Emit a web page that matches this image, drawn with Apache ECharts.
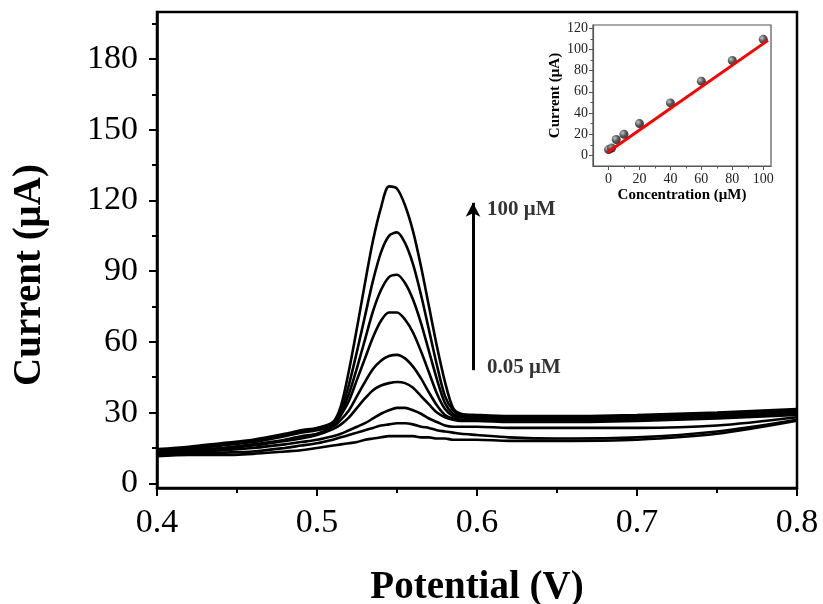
<!DOCTYPE html>
<html>

<head>
  <meta http-equiv="Content-Type" content="text/html; charset=utf-8" />
  <title>DPV curves</title>
  <script src="https://cdn.jsdelivr.net/npm/echarts@6/dist/echarts.min.js"></script>
  <style>
    html, body { margin: 0; padding: 0; background: #fff; }
    #chart { width: 823px; height: 604px; }
  </style>
</head>

<body>
  <div id="chart"></div>

  <script type="text/javascript">
    "use strict"

    // potential (V) sampling points shared by all curves
    const potential = [0.40, 0.42, 0.44, 0.46, 0.48, 0.49, 0.50, 0.51, 0.515, 0.52, 0.525, 0.53, 0.535, 0.54, 0.545,
      0.55, 0.555, 0.56, 0.565, 0.57, 0.575, 0.58, 0.585, 0.59, 0.60, 0.62, 0.65, 0.70, 0.75, 0.80]

    // current (uA), from 100 uM down to 0.05 uM
    const curve100 = [14.5, 15.5, 17, 18.5, 21, 22.5, 23.5, 26, 33, 48, 66, 85, 103, 117, 126, 125, 118, 107, 92, 75, 58, 43, 32, 29.5, 29, 28.5, 28.5, 29, 30, 31.5]
    const curve80 = [14, 15, 16.5, 18, 20.5, 22, 23, 25.5, 31, 42, 56, 71, 86, 98, 105, 106.5, 102, 93, 80, 65, 50, 37, 31, 29, 28.5, 28, 28, 28.5, 29.5, 31]
    const curve60 = [14, 15, 16.5, 18, 20.5, 22, 23, 25, 30, 38, 49, 61, 73, 82, 87.5, 88.5, 85, 78, 68, 56, 44, 34, 29.5, 28.5, 28, 27.5, 27.5, 28, 29, 30.5]
    const curve40 = [13.5, 14.5, 16, 17.5, 20, 21.5, 22.5, 24.5, 29, 35, 44, 53, 62, 69, 72.5, 72.5, 69.5, 64, 56, 47, 38, 31.5, 28.5, 28, 27.5, 27, 27, 27.5, 28.5, 30]
    const curve20 = [13, 14, 15, 16.5, 18.5, 20, 21, 24, 27, 31, 37, 43, 48.5, 52, 54, 54.5, 53, 49.5, 44.5, 38.5, 33, 29, 27.5, 27, 27, 26.5, 26.5, 27, 28, 29.5]
    const curve10 = [13, 13.5, 14.5, 16, 18, 19, 20.5, 23, 25, 28, 32, 36, 39.5, 41.5, 42.5, 43, 42.5, 40.5, 37, 33.5, 30, 28, 27, 26.5, 26.5, 26, 26, 26.5, 27.5, 29]
    const curve5 = [12.5, 13, 14, 15, 16.5, 17.5, 18.5, 20, 21, 22.5, 24, 25.5, 27.5, 29.5, 31, 32, 32, 31, 29.5, 27.5, 26, 24.5, 24, 24, 24, 23.5, 23.5, 23.5, 24.5, 28]
    const curve1 = [12, 12.5, 13, 13.5, 15, 16, 17, 18.5, 19.5, 20.5, 21.5, 22.5, 23.5, 24.5, 25, 25.5, 25.5, 25, 24, 23.5, 22.5, 22, 21.5, 21, 20.5, 19.5, 19, 19.5, 22, 27]
    const curve005 = [11.5, 12, 12, 12.5, 13.5, 14, 15, 16, 16.5, 17, 17.5, 18.5, 19, 19.5, 20, 20, 20, 20, 19.5, 19.5, 19, 19, 18.5, 18.5, 18.5, 18, 18, 18.5, 21, 26.5]

    const curves = [curve100, curve80, curve60, curve40, curve20, curve10, curve5, curve1, curve005]

    // main axis ticks
    const yLabels = [0, 30, 60, 90, 120, 150, 180]
    const yMinorTicks = [15, 45, 75, 105, 135, 165, 195]

    // arrow annotation
    const arrowFrom = [0.5975, 48]
    const arrowTo = [0.5975, 119]
    const arrowLabels = [[0.6, 116, "100 μM"], [0.6, 49, "0.05 μM"]]

    // inset: calibration
    const insetConc = [0.05, 2, 5, 10, 20, 40, 60, 80, 100]
    const insetCurrent = [5.5, 7, 15, 20, 30, 49.5, 70, 89.5, 109.5]
    const fitLine = [[-1, 2.5], [103, 108.5]]
    const insetXLabels = [0, 20, 40, 60, 80, 100]
    const insetXMinor = [10, 30, 50, 70, 90]
    const insetYLabels = [0, 20, 40, 60, 80, 100, 120]
    const insetYMinor = [10, 30, 50, 70, 90, 110]

    const serif = "'Times New Roman', 'Liberation Serif', serif"

    let myChart = echarts.init(document.getElementById("chart"), null, { renderer: "canvas" })

    let curveSeries = curves.map(function (c) {
      return {
        type: "line",
        xAxisIndex: 0,
        yAxisIndex: 0,
        data: potential.map(function (x, i) { return [x, c[i]] }),
        smooth: 0.3,
        showSymbol: false,
        silent: true,
        lineStyle: { color: "#000", width: 2.6 }
      }
    })

    let option = {
      animation: false,
      textStyle: { fontFamily: serif, color: "#000" },
      grid: [
        { left: 157, top: 12, right: 26, bottom: 116, show: true, borderColor: "#000", borderWidth: 2.5, outerBoundsMode: "none", containLabel: false },
        { left: 593, top: 25, width: 178, height: 141, show: true, borderColor: "#555", borderWidth: 1.2, outerBoundsMode: "none", containLabel: false }
      ],
      graphic: [{
        // rotated main y title, centred at (30, 275)
        type: "text",
        x: 30,
        y: 275,
        rotation: Math.PI / 2,
        style: {
          text: "Current (μA)",
          fontFamily: serif,
          fontSize: 39,
          fontWeight: "bold",
          fill: "#000",
          align: "center",
          verticalAlign: "middle"
        }
      }],
      xAxis: [
        {
          gridIndex: 0,
          type: "value",
          position: "bottom",
          min: 0.4,
          max: 0.8,
          interval: 0.1,
          name: "Potential (V)",
          nameLocation: "middle",
          nameGap: 80,
          nameTextStyle: { fontFamily: serif, fontSize: 39, fontWeight: "bold", color: "#000" },
          axisLine: { onZero: false, lineStyle: { color: "#000", width: 2.5 } },
          axisTick: { inside: false, length: 8, lineStyle: { color: "#000", width: 2 } },
          minorTick: { show: true, splitNumber: 2, length: 5, lineStyle: { color: "#000", width: 2 } },
          axisLabel: {
            margin: 18, fontSize: 34, color: "#000", fontFamily: serif,
            formatter: function (v) { return v.toFixed(1) }
          },
          splitLine: { show: false }
        },
        {
          gridIndex: 1,
          type: "value",
          position: "bottom",
          min: -10,
          max: 105,
          name: "Concentration (μM)",
          nameLocation: "middle",
          nameGap: 22,
          nameTextStyle: { fontFamily: serif, fontSize: 15, fontWeight: "bold", color: "#000" },
          axisLine: { onZero: false, lineStyle: { color: "#555", width: 1.2 } },
          axisTick: { customValues: insetXLabels, length: 4, lineStyle: { color: "#555", width: 1 } },
          axisLabel: { customValues: insetXLabels, margin: 6, fontSize: 14, color: "#222", fontFamily: serif },
          splitLine: { show: false }
        },
        {
          gridIndex: 1,
          type: "value",
          position: "bottom",
          min: -10,
          max: 105,
          axisLine: { show: false, onZero: false },
          axisTick: { customValues: insetXMinor, length: 2.5, lineStyle: { color: "#555", width: 1 } },
          axisLabel: { show: false },
          splitLine: { show: false }
        }
      ],
      yAxis: [
        {
          gridIndex: 0,
          type: "value",
          position: "left",
          min: -2,
          max: 200,
          axisLine: { onZero: false, lineStyle: { color: "#000", width: 2.5 } },
          axisTick: { customValues: yLabels, length: 8, lineStyle: { color: "#000", width: 2 } },
          axisLabel: { customValues: yLabels, margin: 19, fontSize: 34, color: "#000", fontFamily: serif },
          splitLine: { show: false }
        },
        {
          gridIndex: 0,
          type: "value",
          position: "left",
          min: -2,
          max: 200,
          axisLine: { show: false, onZero: false },
          axisTick: { customValues: yMinorTicks, length: 5, lineStyle: { color: "#000", width: 2 } },
          axisLabel: { show: false },
          splitLine: { show: false }
        },
        {
          gridIndex: 1,
          type: "value",
          position: "left",
          min: -10,
          max: 123,
          name: "Current (μA)",
          nameLocation: "middle",
          nameGap: 30,
          nameTextStyle: { fontFamily: serif, fontSize: 15, fontWeight: "bold", color: "#000" },
          axisLine: { onZero: false, lineStyle: { color: "#555", width: 1.2 } },
          axisTick: { customValues: insetYLabels, length: 4, lineStyle: { color: "#555", width: 1 } },
          axisLabel: { customValues: insetYLabels, margin: 5, fontSize: 14, color: "#222", fontFamily: serif },
          splitLine: { show: false }
        },
        {
          gridIndex: 1,
          type: "value",
          position: "left",
          min: -10,
          max: 123,
          axisLine: { show: false, onZero: false },
          axisTick: { customValues: insetYMinor, length: 2.5, lineStyle: { color: "#555", width: 1 } },
          axisLabel: { show: false },
          splitLine: { show: false }
        }
      ],
      series: curveSeries.concat([
        {
          // arrow with concentration labels
          type: "scatter",
          xAxisIndex: 0,
          yAxisIndex: 0,
          data: arrowLabels,
          symbolSize: 0,
          silent: true,
          label: {
            show: true,
            position: "right",
            distance: 10,
            fontFamily: serif,
            fontSize: 21,
            fontWeight: "bold",
            color: "#000",
            formatter: function (p) { return p.data[2] }
          },
          markLine: {
            silent: true,
            symbol: ["none", "arrow"],
            symbolSize: [11, 14],
            lineStyle: { color: "#000", width: 3, type: "solid" },
            label: { show: false },
            data: [[{ coord: arrowFrom }, { coord: arrowTo }]]
          }
        },
        {
          type: "line",
          xAxisIndex: 1,
          yAxisIndex: 2,
          data: fitLine,
          showSymbol: false,
          silent: true,
          lineStyle: { color: "#ff0000", width: 3 }
        },
        {
          type: "scatter",
          xAxisIndex: 1,
          yAxisIndex: 2,
          data: insetConc.map(function (c, i) { return [c, insetCurrent[i]] }),
          symbolSize: 9,
          silent: true,
          itemStyle: {
            color: {
              type: "radial", x: 0.35, y: 0.35, r: 0.7,
              colorStops: [{ offset: 0, color: "#bbb" }, { offset: 0.5, color: "#333" }, { offset: 1, color: "#000" }]
            }
          }
        }
      ])
    }
    myChart.setOption(option, true)
  </script>
</body>

</html>
